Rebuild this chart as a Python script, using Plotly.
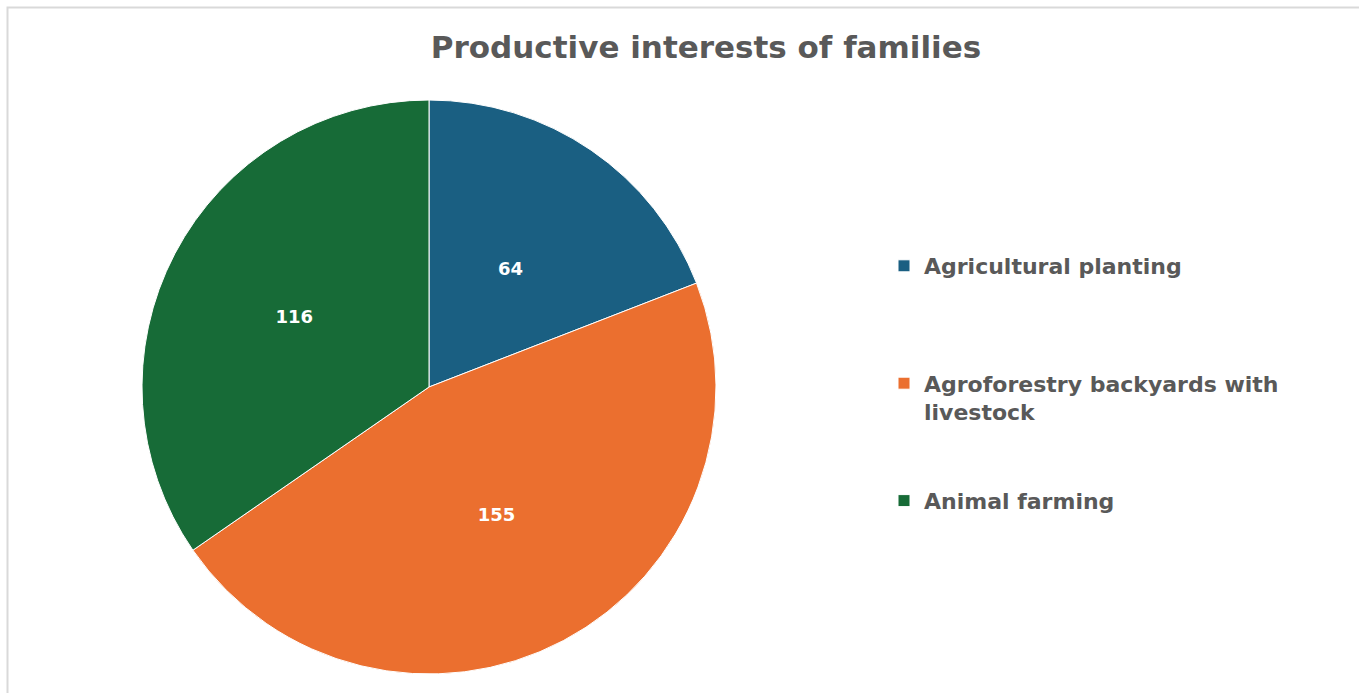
import math
import plotly.graph_objects as go

labels = ["Agricultural planting", "Agroforestry backyards with livestock", "Animal farming"]
legend_labels = [
    "Agricultural planting<br>\u00a0<br>\u00a0<br>\u00a0",
    "Agroforestry backyards with<br>livestock<br>\u00a0<br>\u00a0",
    "Animal farming",
]
values = [64, 155, 116]
colors = ["#1a5f82", "#eb6f2f", "#176b37"]
title = "Productive interests of families"

W, H = 1359, 693
cx, cy, r = 429, 387, 287
FONT = "DejaVu Sans"
LABEL_FONT = dict(family=FONT, size=18, color="white", weight="bold")

fig = go.Figure(go.Pie(
    labels=legend_labels,
    values=values,
    text=[str(v) for v in values],
    textinfo="text",
    textposition=["none", "inside", "inside"],
    insidetextorientation="horizontal",
    textfont=LABEL_FONT,
    marker=dict(colors=colors, line=dict(color="white", width=1)),
    sort=False,
    direction="clockwise",
    rotation=0,
    hoverinfo="value",
    domain=dict(x=[(cx - r) / W, (cx + r) / W], y=[(H - cy - r) / H, (H - cy + r) / H]),
))

# label for the narrow first slice, placed at half radius on its mid-angle (as the source does)
total = sum(values)
mid = math.pi * values[0] / total
fig.add_annotation(
    x=(cx + 0.5 * r * math.sin(mid)) / W, y=(H - cy + 0.5 * r * math.cos(mid)) / H,
    xref="paper", yref="paper", text=str(values[0]), showarrow=False,
    font=LABEL_FONT, xanchor="center", yanchor="middle",
)

fig.update_layout(
    width=W, height=H,
    margin=dict(l=0, r=0, t=0, b=0),
    paper_bgcolor="white",
    title=dict(text=title, x=706 / W, xanchor="center", y=1 - 47 / H, yanchor="middle",
               font=dict(family=FONT, size=31, color="#595959", weight="bold")),
    legend=dict(x=884 / W, xanchor="left", y=1 - 245 / H, yanchor="top", valign="top",
                font=dict(family=FONT, size=22, color="#595959", weight="bold"),
                itemwidth=30),
    shapes=[dict(type="rect", xref="paper", yref="paper", x0=7.5 / W, x1=1.05, y0=-0.05, y1=1 - 7.5 / H,
                 line=dict(color="#d9d9d9", width=2), layer="below")],
)

fig.write_html("out.html")
